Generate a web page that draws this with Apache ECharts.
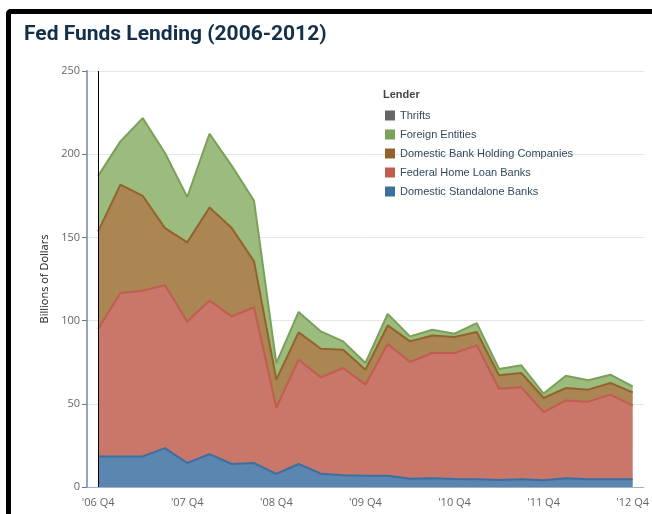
<!DOCTYPE html>
<html>
<head>
<meta charset="utf-8">
<script src="https://cdn.jsdelivr.net/npm/echarts@6/dist/echarts.min.js"></script>
<style>
  html, body { margin: 0; padding: 0; background: #fff; overflow: hidden; }
  #chart { width: 652px; height: 514px; }
  #frame {
    position: absolute; left: 6px; top: 9px; width: 700px; height: 600px;
    border-left: 5px solid #000; border-top: 5px solid #000;
    border-top-left-radius: 5px; pointer-events: none;
  }
</style>
</head>
<body>
<div id="chart"></div>
<div id="frame"></div>
<script>
// quarters '06 Q4 .. '12 Q4
const quarters = [
  "'06 Q4", "'07 Q1", "'07 Q2", "'07 Q3", "'07 Q4", "'08 Q1", "'08 Q2", "'08 Q3", "'08 Q4",
  "'09 Q1", "'09 Q2", "'09 Q3", "'09 Q4", "'10 Q1", "'10 Q2", "'10 Q3", "'10 Q4",
  "'11 Q1", "'11 Q2", "'11 Q3", "'11 Q4", "'12 Q1", "'12 Q2", "'12 Q3", "'12 Q4"
];

// billions of dollars, stacked bottom -> top
const standalone = [18.4, 18.4, 18.4, 23.4, 14.4, 19.8, 13.8, 14.4, 7.9, 13.8, 8, 7, 6.8, 6.8, 5, 5.3, 4.8, 4.6, 4.2, 4.6, 4, 5.2, 4.6, 4.6, 4.6];
const homeLoan = [76.6, 98.2, 99.6, 97.8, 85.1, 92.2, 88.7, 93.6, 39.7, 62.7, 57.9, 64.5, 54.7, 79.1, 70.1, 75.2, 75.7, 80.5, 54.8, 55.3, 41, 46.8, 46.7, 50.9, 44.3];
const holdingCos = [58.6, 65.1, 57, 34.4, 47.5, 56, 53.1, 27.6, 16.9, 16.4, 17.2, 11, 9, 11.2, 12.4, 10.6, 9.6, 8, 8.1, 8.6, 8.5, 7.5, 7.2, 7, 8];
const foreign = [33.4, 26, 46.7, 45.1, 27.3, 44.3, 37.4, 36.4, 10, 12.3, 10.4, 5, 4, 6.9, 3, 3.4, 2, 5.4, 3.8, 4.6, 2.6, 7.4, 5.6, 5, 3.6];
const thrifts = [0, 0, 0, 0, 0, 0, 0, 0, 0, 0, 0, 0, 0, 0, 0, 0, 0, 0, 0, 0, 0, 0, 0, 0, 0];

const yTicks = [0, 50, 100, 150, 200, 250];

function areaSeries(name, data, line, fill) {
    return {
        name: name,
        type: 'line',
        stack: 'total',
        data: data,
        symbol: 'none',
        color: line,
        lineStyle: {color: line, width: 2},
        areaStyle: {color: fill, opacity: 1}
    };
}

const chart = echarts.init(document.getElementById('chart'));

const series = [
    areaSeries('Domestic Standalone Banks', standalone, '#3a6f9f', '#5a86af'),
    areaSeries('Federal Home Loan Banks', homeLoan, '#c25c4f', '#c9766b'),
    areaSeries('Domestic Bank Holding Companies', holdingCos, '#93642a', '#ab8554'),
    areaSeries('Foreign Entities', foreign, '#7ba05a', '#9cbb7e'),
    areaSeries('Thrifts', thrifts, '#666666', '#888888')
];
series[4].lineStyle.width = 0;
series[4].markLine = {
    silent: true,
    symbol: 'none',
    label: {show: false},
    lineStyle: {color: '#000', width: 1, type: 'solid'},
    data: [{xAxis: 0}]
};

chart.setOption({
    animation: false,
    title: {
        text: 'Fed Funds Lending (2006-2012)',
        left: 19,
        top: 19,
        textStyle: {fontFamily: 'Roboto', fontWeight: 'bold', fontSize: 21, color: '#13304b'}
    },
    grid: {left: 87, right: 5, top: 71, bottom: 27},
    legend: {
        orient: 'vertical',
        left: 380,
        top: 105,
        icon: 'rect',
        itemWidth: 10,
        itemHeight: 10,
        itemGap: 8,
        textStyle: {fontFamily: 'Liberation Sans', fontSize: 11, color: '#34495e'},
        data: ['Thrifts', 'Foreign Entities', 'Domestic Bank Holding Companies', 'Federal Home Loan Banks', 'Domestic Standalone Banks']
    },
    graphic: [{
        type: 'text',
        left: 383,
        top: 89,
        style: {text: 'Lender', font: 'bold 11px "Liberation Sans"', fill: '#444'}
    }],
    xAxis: {
        type: 'category',
        data: quarters,
        boundaryGap: true,
        axisLine: {lineStyle: {color: '#9fb1c9', width: 1}},
        axisTick: {alignWithLabel: true, interval: 3, length: 6, lineStyle: {color: '#3b5b85'}},
        axisLabel: {interval: 3, color: '#666', fontFamily: 'Open Sans', fontSize: 11, margin: 10}
    },
    yAxis: {
        type: 'value',
        min: yTicks[0],
        max: yTicks[yTicks.length - 1],
        interval: 50,
        name: 'Billions of Dollars',
        nameLocation: 'middle',
        nameGap: 33,
        nameTextStyle: {fontFamily: 'Open Sans', fontSize: 11, color: '#222'},
        axisLine: {show: true, lineStyle: {color: '#8fa5c2', width: 2}},
        axisTick: {show: true, length: 5, lineStyle: {color: '#5d7aa0'}},
        axisLabel: {color: '#666', fontFamily: 'Open Sans', fontSize: 11, margin: 7},
        splitLine: {lineStyle: {color: '#e6e6e6'}}
    },
    series: series
});
</script>
</body>
</html>
